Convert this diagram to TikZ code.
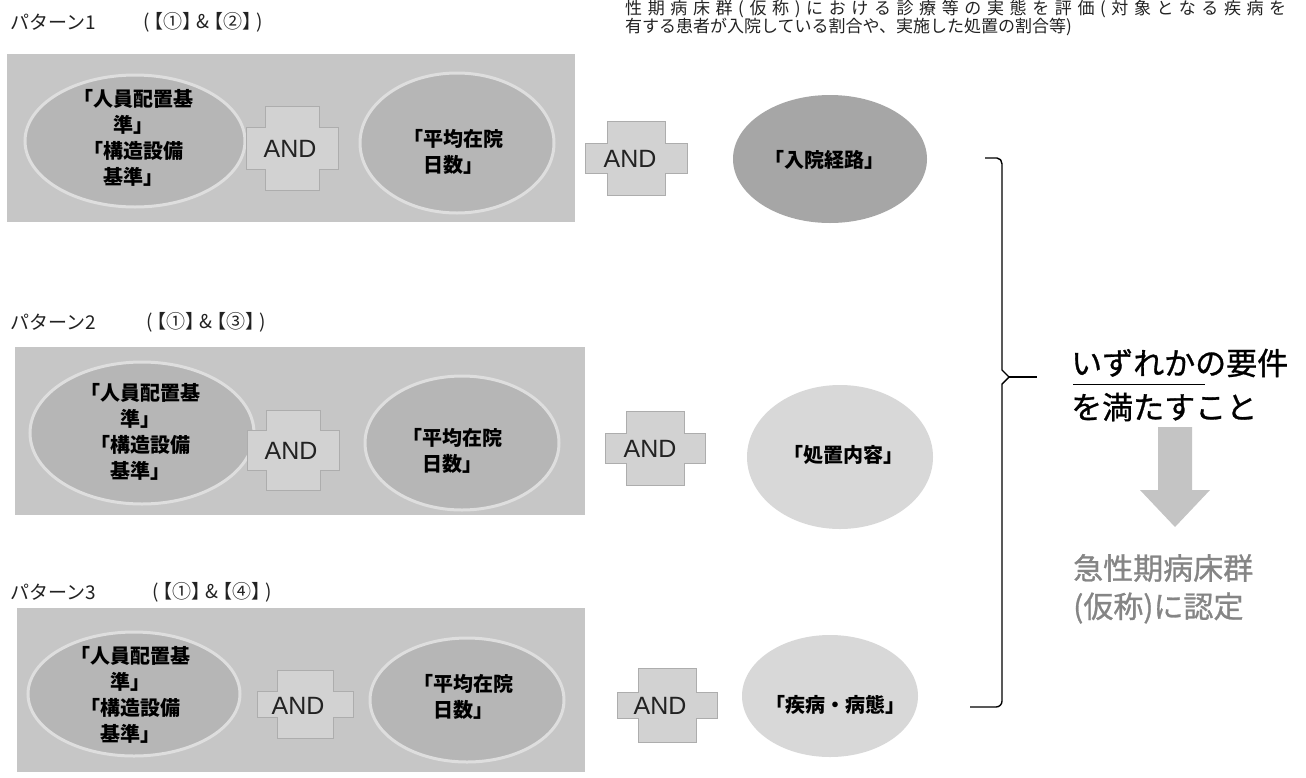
\documentclass[tikz,border=0pt]{standalone}
\usepackage{fontspec}
\setmainfont{Noto Sans CJK JP}
\newfontfamily\arialf{Liberation Sans}
\newfontfamily\jpmed[FakeBold=0.9]{Noto Sans CJK JP}
\usetikzlibrary{shapes.geometric,calc}
\definecolor{boxfill}{HTML}{C6C6C6}
\definecolor{ellfill}{HTML}{B6B6B6}
\definecolor{ellrim}{HTML}{DEDEDE}
\definecolor{crossfill}{HTML}{D2D2D2}
\definecolor{crossline}{HTML}{ADADAD}
\definecolor{routefill}{HTML}{A6A6A6}
\definecolor{lightell}{HTML}{D8D8D8}
\definecolor{arrowgray}{HTML}{C4C4C4}
\definecolor{graytext}{HTML}{858585}
\definecolor{labeltext}{HTML}{222222}
\newcommand\andcross[6]{%
  \begin{scope}[shift={(#1,#2)}]
  \filldraw[crossst] (-#3,-#4) -- (#3,-#4) -- (#3,-#6) -- (#5,-#6) -- (#5,#6) -- (#3,#6) -- (#3,#4) -- (-#3,#4) -- (-#3,#6) -- (-#5,#6) -- (-#5,-#6) -- (-#3,-#6) -- cycle;
  \end{scope}}
\newcommand\patcond[1]{(\kern-5pt【①】\kern-5pt\&\kern-5pt【#1】\kern-5pt)}
\begin{document}
\begin{tikzpicture}[x=1pt,y=-1pt,
  bandbox/.style={fill=boxfill,draw=none},
  ellnode/.style={ellipse,fill=ellfill,draw=ellrim,line width=3pt,inner sep=0pt},
  routenode/.style={ellipse,fill=routefill,draw=none,inner sep=0pt},
  lightnode/.style={ellipse,fill=lightell,draw=none,inner sep=0pt},
  etxt/.style={font=\bfseries\fontsize{20}{26}\selectfont,align=center,inner sep=0pt,text=black},
  andtxt/.style={font=\arialf\fontsize{25}{25}\selectfont,inner sep=0pt,text=labeltext},
  crossst/.style={fill=crossfill,draw=crossline,line width=0.8pt},
  patlabel/.style={font=\fontsize{19}{19}\selectfont,anchor=west,inner sep=0pt,text=labeltext},
  toptxt/.style={font=\fontsize{17}{17}\selectfont,anchor=west,inner sep=0pt,text=labeltext},
  bigtxt/.style={font=\jpmed\fontsize{31}{31}\selectfont,anchor=west,inner sep=0pt,text=black},
  graybig/.style={font=\jpmed\fontsize{30}{30}\selectfont,anchor=west,inner sep=0pt,text=graytext},
  bracket/.style={draw=black,line width=1.4pt}
]
\useasboundingbox (0,0) rectangle (1306,777);
\clip (0,0) rectangle (1306,777);
\fill[white] (0,0) rectangle (1306,777);

% top-right note
\node[toptxt] (note1) at (625,9) {\addfontfeatures{LetterSpace=33}性期病床群(仮称)における診療等の実態を評価(対象となる疾病を};
\node[toptxt] (note2) at (625,27) {有する患者が入院している割合や、実施した処置の割合等)};

% pattern labels
\node[patlabel] (pl1a) at (10,22) {パターン1};
\node[patlabel] (pl1b) at (143,22) {\patcond{②}};
\node[patlabel] (pl2a) at (10,322) {パターン2};
\node[patlabel] (pl2b) at (146,322) {\patcond{③}};
\node[patlabel] (pl3a) at (10,592) {パターン3};
\node[patlabel] (pl3b) at (152,592) {\patcond{④}};

% ---------- pattern 1 ----------
\fill[bandbox] (7,54) rectangle (575,222);
\node[ellnode,minimum width=220pt,minimum height=132pt] (e1a) at (135,141) {};
\node[etxt] (t1a) at (133,138) {「人員配置基\\準」\\「構造設備\\基準」};
\andcross{292}{148}{27}{42}{46}{21}
\node[andtxt] (and1i) at (290,149) {AND};
\node[ellnode,minimum width=194pt,minimum height=140pt] (e1b) at (457,143) {};
\node[etxt] (t1b) at (453,152) {「平均在院\\日数」};
\andcross{636}{158}{29}{37}{51}{15}
\node[andtxt] (and1o) at (630,159) {AND};
\node[routenode,minimum width=194pt,minimum height=128pt] (e1c) at (830,159) {};
\node[etxt] (t1c) at (824,160) {「入院経路」};

% ---------- pattern 2 ----------
\fill[bandbox] (15,347) rectangle (585,515);
\node[ellnode,minimum width=224pt,minimum height=142pt] (e2a) at (142,433) {};
\node[etxt] (t2a) at (140,432) {「人員配置基\\準」\\「構造設備\\基準」};
\andcross{293}{450}{27}{40}{46}{20}
\node[andtxt] (and2i) at (291,451) {AND};
\node[ellnode,minimum width=194pt,minimum height=134pt] (e2b) at (462,443) {};
\node[etxt] (t2b) at (452,451) {「平均在院\\日数」};
\andcross{655}{448}{29}{37}{50}{15}
\node[andtxt] (and2o) at (650,449) {AND};
\node[lightnode,minimum width=186pt,minimum height=144pt] (e2c) at (840,457) {};
\node[etxt] (t2c) at (843,455) {「処置内容」};

% ---------- pattern 3 ----------
\fill[bandbox] (17,608) rectangle (585,772);
\node[ellnode,minimum width=212pt,minimum height=124pt] (e3a) at (134,694) {};
\node[etxt] (t3a) at (130,695) {「人員配置基\\準」\\「構造設備\\基準」};
\andcross{305}{704}{28}{34}{48}{13}
\node[andtxt] (and3i) at (298,706) {AND};
\node[ellnode,minimum width=194pt,minimum height=124pt] (e3b) at (467,700) {};
\node[etxt] (t3b) at (463,697) {「平均在院\\日数」};
\andcross{667}{705}{29}{37}{50}{13}
\node[andtxt] (and3o) at (660,706) {AND};
\node[lightnode,minimum width=176pt,minimum height=122pt] (e3c) at (830,696) {};
\node[etxt] (t3c) at (835,705) {「疾病・病態」};

% ---------- bracket ----------
\coordinate (brtop) at (985,158);
\coordinate (brtip) at (1037,377);
\coordinate (brbot) at (970,707);
\draw[bracket,line join=round] (brtop) -- (997,158) to[out=0,in=90] (1002,164) -- (1002,370) -- (1009,377) -- (1002,384) -- (1002,701) to[out=-90,in=0] (996,707) -- (brbot);
\draw[bracket] (1009,377) -- (brtip);

% ---------- result ----------
\node[bigtxt] (req1) at (1071,363) {いずれかの要件};
\node[bigtxt] (req2) at (1071,407) {を満たすこと};
\draw[black,line width=1pt] ($(req1.west)+(2,21)$) -- ++(132,0);
\fill[arrowgray] (1158,427) -- (1192,427) -- (1192,490) -- (1210,490) -- (1175,527) -- (1140,490) -- (1158,490) -- cycle;
\node[graybig] (res1) at (1073,568) {急性期病床群};
\node[graybig] (res2) at (1073,608) {(仮称)に認定};
\end{tikzpicture}
\end{document}
